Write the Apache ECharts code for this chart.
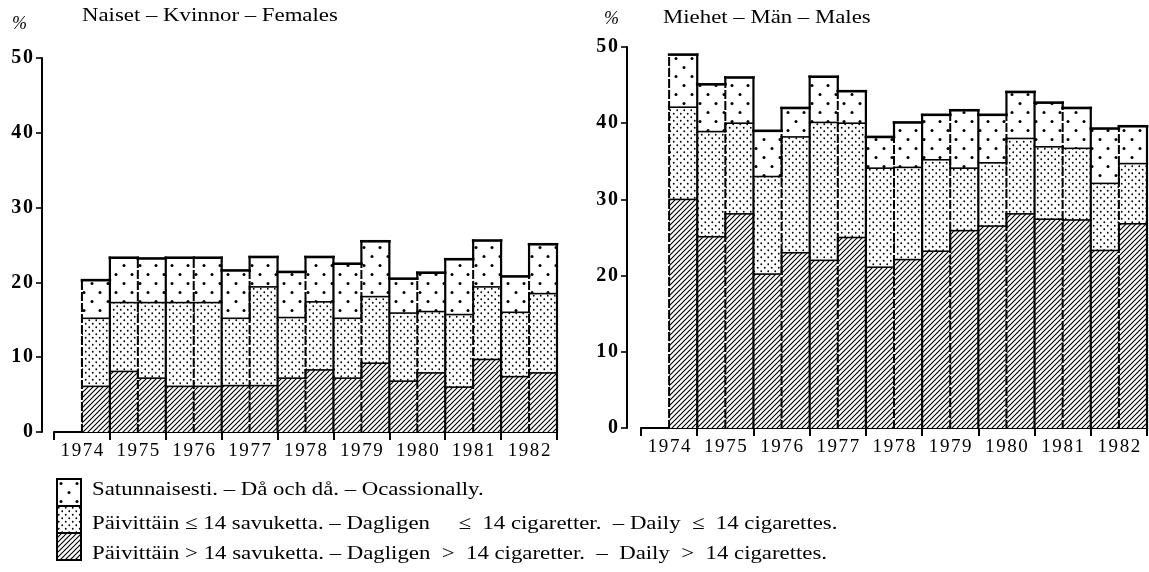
<!DOCTYPE html>
<html>
<head>
<meta charset="utf-8">
<script src="https://cdn.jsdelivr.net/npm/echarts@6/dist/echarts.min.js"></script>
<style>
html, body { margin: 0; padding: 0; background: #fff; }
#chart { width: 1149px; height: 572px; }
</style>
</head>
<body>
<div id="chart"></div>
<script>
var years = ['1974', '1975', '1976', '1977', '1978', '1979', '1980', '1981', '1982'];

// half-year values (two per year), first half of 1974 missing
var femHeavy = [null, 6.1, 8.1, 7.2, 6.1, 6.1, 6.2, 6.2, 7.2, 8.3, 7.2, 9.2, 6.8, 7.9, 6.0, 9.7, 7.4, 7.9];
var femLight = [null, 9.1, 9.2, 10.1, 11.2, 11.2, 9.0, 13.2, 8.1, 9.1, 8.0, 8.9, 9.1, 8.2, 9.7, 9.7, 8.6, 10.6];
var femOcc   = [null, 5.1, 6.0, 5.9, 6.0, 6.0, 6.4, 4.0, 6.1, 6.0, 7.3, 7.4, 4.6, 5.2, 7.4, 6.2, 4.8, 6.6];

var maleHeavy = [null, 30.0, 25.1, 28.1, 20.2, 23.0, 22.0, 25.0, 21.1, 22.1, 23.2, 25.9, 26.5, 28.1, 27.4, 27.3, 23.3, 26.8];
var maleLight = [null, 12.1, 13.8, 11.9, 12.8, 15.2, 18.1, 15.0, 13.0, 12.1, 12.0, 8.2, 8.3, 9.9, 9.5, 9.4, 8.8, 7.9];
var maleOcc   = [null, 6.9, 6.2, 6.0, 6.0, 3.8, 6.0, 4.2, 4.1, 5.9, 5.9, 7.6, 6.3, 6.1, 5.8, 5.3, 7.2, 4.9];

var panelTitles = ['Naiset \u2013 Kvinnor \u2013 Females', 'Miehet \u2013 M\u00e4n \u2013 Males'];
var legendLabels = [
    'Satunnaisesti. \u2013 D\u00e5 och d\u00e5. \u2013 Ocassionally.',
    'P\u00e4ivitt\u00e4in \u2264 14 savuketta. \u2013 Dagligen     \u2264  14 cigaretter.  \u2013 Daily  \u2264  14 cigarettes.',
    'P\u00e4ivitt\u00e4in > 14 savuketta. \u2013 Dagligen  >  14 cigaretter.  \u2013  Daily  >  14 cigarettes.'
];

var SERIF = '"Liberation Serif", "DejaVu Serif", serif';

// fill patterns
function tile(w, h, draw) {
    var c = document.createElement('canvas');
    c.width = w; c.height = h;
    var g = c.getContext('2d');
    g.fillStyle = '#fff';
    g.fillRect(0, 0, w, h);
    g.fillStyle = '#000';
    g.strokeStyle = '#000';
    draw(g);
    return { image: c, repeat: 'repeat' };
}
function dot(g, x, y, r) {
    g.beginPath(); g.arc(x, y, r, 0, Math.PI * 2); g.fill();
}
var fills = {
    hatch: tile(5, 5, function (g) {
        g.lineWidth = 1.15;
        g.beginPath();
        g.moveTo(0, 5); g.lineTo(5, 0);
        g.moveTo(-1, 1); g.lineTo(1, -1);
        g.moveTo(4, 6); g.lineTo(6, 4);
        g.stroke();
    }),
    dense: tile(7, 7, function (g) {
        dot(g, 1.75, 1.75, 0.9);
        dot(g, 5.25, 5.25, 0.9);
    }),
    sparse: tile(16, 18, function (g) {
        dot(g, 4, 4.5, 1.5);
        dot(g, 12, 13.5, 1.5);
    })
};

function levels(heavy, light, occ, i) {
    var a = heavy[i], b = a + light[i];
    return [a, b, b + occ[i]];
}

function seg(x1, y1, x2, y2, w, dash) {
    return {
        type: 'line', z2: 10,
        shape: { x1: x1, y1: y1, x2: x2, y2: y2 },
        style: { stroke: '#000', lineWidth: w, lineDash: dash || null, lineCap: 'square' }
    };
}
function box(x, y, w, h, fill) {
    return { type: 'rect', shape: { x: x, y: y, width: w, height: h }, style: { fill: fill } };
}

function stairs(heavy, light, occ) {
    return function (params, api) {
        var i = params.dataIndex;
        if (heavy[i] == null) return;
        var yr = Math.floor(i / 2), half = i % 2;
        var lv = levels(heavy, light, occ, i);
        var base = api.coord([yr, 0]);
        var bw = api.size([1, 0])[0] / 2;
        var x0 = base[0] - bw + half * bw, x1 = x0 + bw;
        var py = function (v) { return api.coord([yr, v])[1]; };
        var y0 = base[1], ya = py(lv[0]), yb = py(lv[1]), yt = py(lv[2]);
        var kids = [
            box(x0, ya, bw, y0 - ya, fills.hatch),
            box(x0, yb, bw, ya - yb, fills.dense),
            box(x0, yt, bw, yb - yt, fills.sparse),
            seg(x0, yt, x1, yt, 2.6),
            seg(x0, yb, x1, yb, 1.6),
            seg(x0, ya, x1, ya, 1.6)
        ];
        var prev = (i > 0 && heavy[i - 1] != null) ? levels(heavy, light, occ, i - 1) : null;
        if (half === 0) {
            var top = prev ? Math.max(lv[2], prev[2]) : lv[2];
            kids.push(seg(x0, y0, x0, py(top), 2.2));
        } else if (!prev) {
            kids.push(seg(x0, y0, x0, yt, 2, [7, 4]));
        } else {
            var lo = Math.min(lv[2], prev[2]), hi = Math.max(lv[2], prev[2]);
            kids.push(seg(x0, y0, x0, py(lo), 2, [7, 4]));
            if (hi > lo) kids.push(seg(x0, py(lo), x0, py(hi), 2.2));
            if (prev[0] !== lv[0]) kids.push(seg(x0, py(prev[0]), x0, ya, 1.8));
            if (prev[1] !== lv[1]) kids.push(seg(x0, py(prev[1]), x0, yb, 1.8));
        }
        if (i === heavy.length - 1) kids.push(seg(x1, y0, x1, yt, 2.2));
        return { type: 'group', children: kids };
    };
}

function seriesData(heavy, light, occ) {
    var out = [];
    for (var i = 0; i < heavy.length; i++) {
        out.push([Math.floor(i / 2), heavy[i] == null ? 0 : levels(heavy, light, occ, i)[2]]);
    }
    return out;
}

function spaced(v) { return String(v).split('').join('\u200A'); }

function xAx(gi) {
    return {
        type: 'category', gridIndex: gi, data: years, boundaryGap: true,
        axisLine: { lineStyle: { color: '#000', width: 2.2 } },
        axisTick: { show: true, interval: 0, length: 8, lineStyle: { color: '#000', width: 2 } },
        axisLabel: { color: '#000', fontFamily: SERIF, fontSize: 19, interval: 0, margin: 10, formatter: spaced },
        splitLine: { show: false }
    };
}
function yAx(gi, off) {
    return {
        type: 'value', gridIndex: gi, min: 0, max: 50, interval: 10, offset: off,
        axisLine: { show: true, lineStyle: { color: '#000', width: 2 } },
        axisTick: { show: true, length: 6, lineStyle: { color: '#000', width: 1.6 } },
        axisLabel: { color: '#000', fontFamily: SERIF, fontSize: 20, fontWeight: 'bold', margin: 9, formatter: spaced },
        splitLine: { show: false }
    };
}

function label(x, y, txt, size, sx, italic) {
    return {
        type: 'text', left: x, top: y, scaleX: sx, originX: 0,
        style: { text: txt, font: (italic ? 'italic ' : '') + size + 'px ' + SERIF, fill: '#000' }
    };
}

var graphics = [
    label(12, 15, '%', 18, 1, true),
    label(604, 10, '%', 18, 1, true),
    label(82, 7, panelTitles[0], 19, 1.2),
    label(663, 9, panelTitles[1], 19, 1.2)
];
var swatch = [fills.sparse, fills.dense, fills.hatch];
var rowY = [492, 526, 556];
for (var k = 0; k < 3; k++) {
    graphics.push({
        type: 'rect', left: 56, top: 478 + k * 27,
        shape: { width: 24, height: 27 },
        style: { fill: swatch[k], stroke: '#000', lineWidth: 2 }
    });
    graphics.push(label(92, rowY[k] - 11, legendLabels[k], 19, 1.2));
}

var chart = echarts.init(document.getElementById('chart'));
chart.setOption({
    backgroundColor: '#fff',
    animation: false,
    grid: [
        { left: 54, right: 592, top: 58, bottom: 140 },
        { left: 641, right: 2, top: 47, bottom: 144 }
    ],
    xAxis: [xAx(0), xAx(1)],
    yAxis: [yAx(0, 12), yAx(1, 14)],
    series: [
        {
            type: 'custom', xAxisIndex: 0, yAxisIndex: 0,
            renderItem: stairs(femHeavy, femLight, femOcc),
            encode: { x: 0, y: 1 },
            data: seriesData(femHeavy, femLight, femOcc)
        },
        {
            type: 'custom', xAxisIndex: 1, yAxisIndex: 1,
            renderItem: stairs(maleHeavy, maleLight, maleOcc),
            encode: { x: 0, y: 1 },
            data: seriesData(maleHeavy, maleLight, maleOcc)
        }
    ],
    graphic: graphics
});
</script>
</body>
</html>
